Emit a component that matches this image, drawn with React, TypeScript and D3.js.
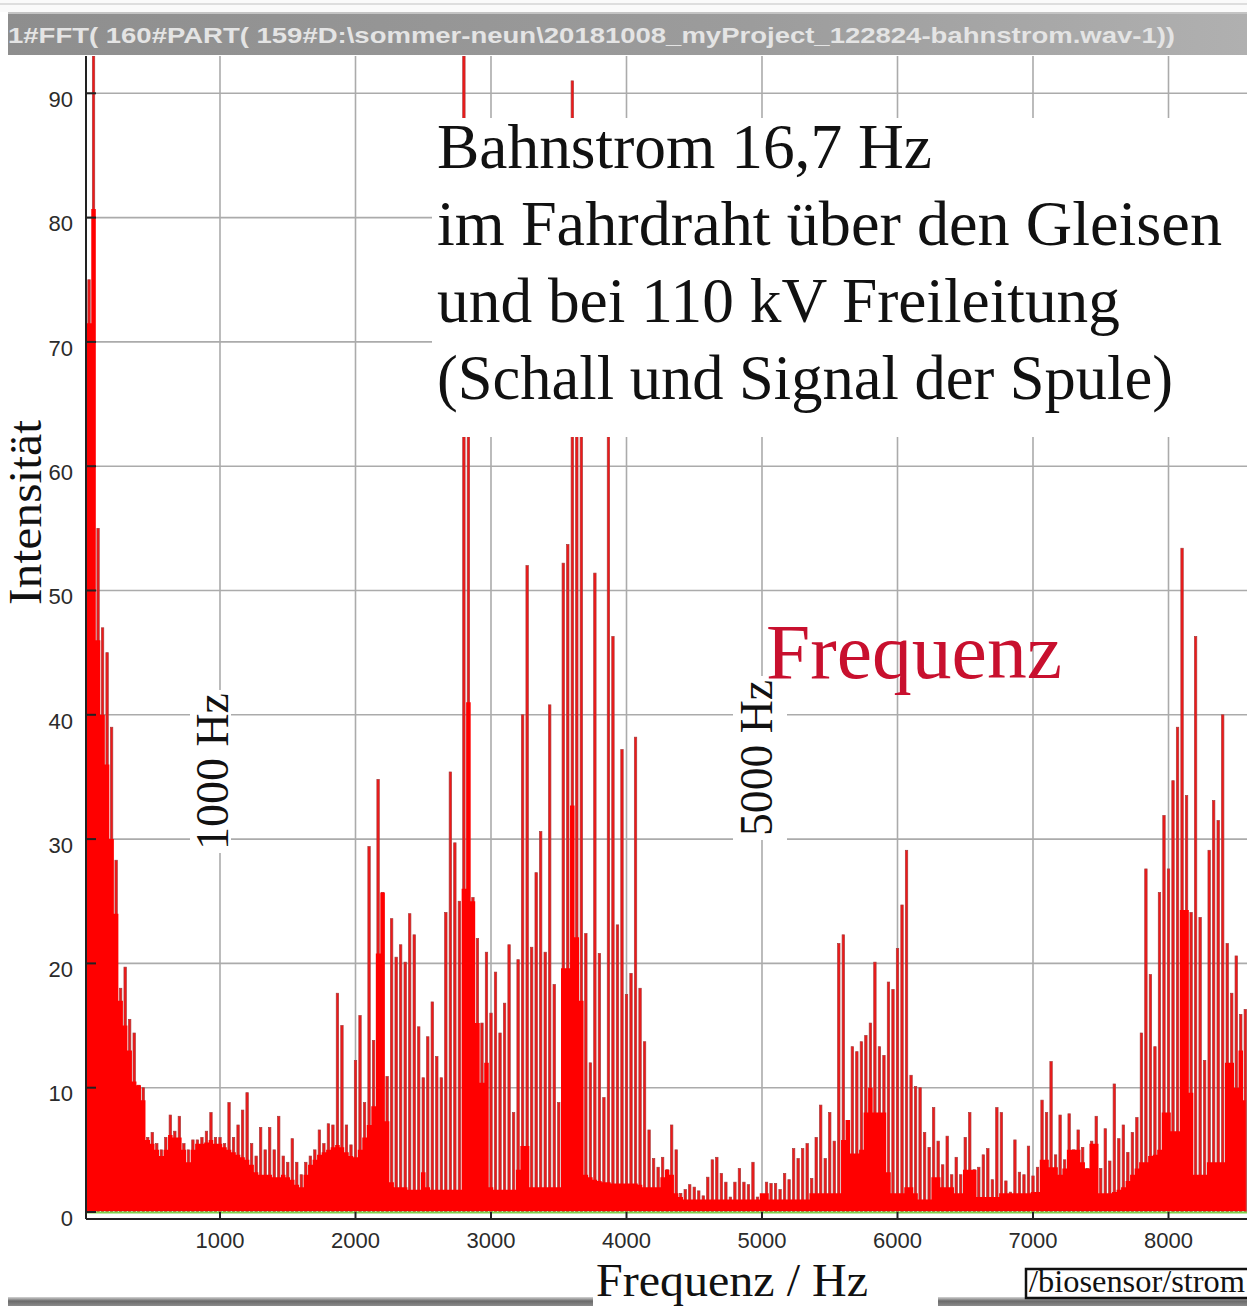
import React, { useEffect, useRef } from 'react'
import * as d3 from 'd3'

const W = 1247
const H = 1306

// lines in the spectrum sit 33,3 Hz apart (2 x 16,7 Hz)
const harmonicStep = 100 / 3

const yTicks = [0, 10, 20, 30, 40, 50, 60, 70, 80, 90]
const xTicks = [1000, 2000, 3000, 4000, 5000, 6000, 7000, 8000]

const titleText = '1#FFT( 160#PART( 159#D:\\sommer-neun\\20181008_myProject_122824-bahnstrom.wav-1))'
const headline = [
	'Bahnstrom 16,7 Hz',
	'im Fahrdraht über den Gleisen',
	'und bei 110 kV Freileitung',
	'(Schall und Signal der Spule)',
]

// peak of each line, 0 - 1000 Hz, 1000 - 2000 Hz ...
const peaks0k = [71.5, 75, 93, 55, 47, 45, 39, 28.3, 18, 19.7, 15.5, 14.4, 10.2, 10, 6, 6.4, 5.5, 5, 6, 7.8, 6.5, 7.7, 5.5, 5, 5.8, 5.8, 6, 6.5, 8, 6]
const peaks1k = [6, 5.5, 8.8, 6, 7, 8.2, 9.6, 5.5, 4.5, 6.8, 5, 6.8, 5, 7.7, 4.5, 4, 5.9, 4, 3, 4, 4.5, 5, 6.6, 5.5, 7.1, 7, 17.6, 15, 7, 5.4]
const peaks2k = [12.2, 15.8, 8.8, 29.4, 13.8, 34.8, 25.7, 10.9, 23.6, 20.5, 21.5, 20.1, 24, 22.3, 14.9, 10.8, 14.1, 16.9, 12.5, 10.8, 24.1, 35.4, 29.7, 25, 93, 70, 25.3, 22, 15.2, 20.9]
const peaks3k = [16, 19.3, 14.4, 16.8, 21.5, 8, 20.3, 40, 52, 21.3, 27.3, 30.6, 20.9, 40.8, 18.3, 8.8, 52.2, 53.7, 91, 70, 70, 22.4, 12, 51.4, 20.8, 9.2, 66, 46.3, 23.1, 37.2]
const peaks4k = [17.5, 19.2, 38.2, 18, 13.7, 6.6, 4.3, 3.6, 4.4, 3.4, 7, 5, 1.5, 1.8, 2.2, 2, 1.7, 1.3, 2.8, 4.2, 4.4, 3.1, 2.4, 1.2, 2.4, 3.5, 2.4, 2.2, 4, 1.2]
const peaks5k = [1.2, 2.4, 2.3, 2.3, 1.8, 3.1, 2.6, 5.1, 4.3, 5.1, 5.5, 2.7, 6, 8.6, 4.3, 8, 5.7, 21.6, 22.3, 7.3, 13.3, 12.9, 13.7, 14.2, 15.2, 20.1, 13.3, 12.6, 18.5, 17.9]
const peaks6k = [21.2, 24.7, 29.1, 11, 10.1, 10, 6.4, 5.2, 8.4, 5.7, 3.8, 6.1, 3, 4.4, 3, 6, 8, 3.4, 3.6, 4.6, 5.1, 2.6, 8.4, 8, 2.5, 1.6, 5.8, 3.2, 3, 5.3]
const peaks7k = [2.9, 3.6, 9, 8, 12.1, 4.6, 7.8, 4.2, 7.9, 5, 6.6, 5.2, 3.5, 5.7, 7.7, 3.5, 6.7, 4.1, 10.3, 5.9, 7, 4.8, 6.4, 7.6, 14.4, 27.6, 19.1, 13.3, 25.7, 31.9]
const peaks8k = [27.6, 34.7, 39, 53.4, 33.5, 24.1, 46.3, 23.7, 12.2, 29.1, 33.1, 31.5, 40, 21.6, 17.6, 20.6, 15.9, 16.3]

// level of the solid red floor under the lines
const floor0k = [71.5, 71.5, 80.7, 46, 40, 36, 30, 24, 17, 15, 13, 10.5, 10.2, 9, 5.8, 5.5, 5, 4.5, 5, 6.2, 6, 6, 5, 4, 5, 5.5, 5.5, 5.6, 5.8, 5.5]
const floor1k = [5.5, 5.2, 5, 4.8, 4.6, 4.4, 4.2, 3.8, 3.2, 3, 3, 3, 2.8, 2.8, 3, 2.8, 2.6, 2.2, 2, 3, 3.8, 4.2, 4.6, 4.8, 5, 5.2, 5.4, 5.2, 4.8, 4.5]
const floor2k = [4.4, 5, 6, 7, 8.5, 20.8, 25.7, 7.3, 2.4, 2, 2, 2, 1.8, 1.8, 1.8, 3.2, 2, 1.8, 1.8, 1.8, 1.8, 1.8, 1.8, 1.8, 26, 41, 25, 15.2, 10.4, 12]
const floor3k = [2, 1.8, 1.8, 1.8, 1.8, 1.8, 3.4, 5.3, 5.3, 2, 2, 2, 2, 2, 2, 2, 19.6, 19.6, 32.7, 22.1, 17, 3, 2.8, 2.6, 2.5, 2.4, 2.4, 2.3, 2.3, 2.3]
const floor4k = [2.3, 2.3, 2.3, 2.2, 2, 2, 2, 2, 2.8, 3.4, 3, 1.5, 1.2, 1, 1, 1, 1, 1, 1, 1, 1, 1, 1, 1, 1, 1, 1, 1, 1, 1]
const floor5k = [1.5, 1.5, 1, 1, 1, 1, 1, 1, 1, 1, 1, 1.5, 1.5, 1.5, 1.5, 1.5, 1.5, 1.5, 5.8, 7.4, 4.7, 4.7, 5, 8, 10, 8, 8, 8, 3.2, 1.5]
const floor6k = [1.5, 1.5, 2, 2, 1.5, 1, 1, 1, 2.8, 2.8, 2, 2, 2, 1.5, 1.5, 3.4, 3.4, 3.4, 1.2, 1.2, 1.2, 1.2, 1.2, 1.5, 1.5, 1.5, 1.5, 1.5, 1.5, 1.5]
const floor7k = [1.6, 1.6, 4.2, 4.2, 3.6, 3.6, 3, 3.5, 5, 5, 5, 4, 3.5, 5.5, 5.5, 1.5, 1.5, 1.5, 1.6, 1.8, 2, 2.5, 3, 3.5, 4, 4, 4.5, 4.6, 5, 8]
const floor8k = [8, 6.5, 6.5, 24.3, 24.3, 9.6, 3, 3, 3, 4, 4, 4, 4, 12, 12, 10, 13, 9]

const peaks = ([] as number[]).concat(peaks0k, peaks1k, peaks2k, peaks3k, peaks4k, peaks5k, peaks6k, peaks7k, peaks8k)
const floors = ([] as number[]).concat(floor0k, floor1k, floor2k, floor3k, floor4k, floor5k, floor6k, floor7k, floor8k)

const plotLeft = 86
const plotTop = 56
const plotRight = W
const axisY = 1219

const serif = '"Liberation Serif", "Times New Roman", serif'
const sans = '"Liberation Sans", Arial, sans-serif'

export default function App() {
	const svgRef = useRef<SVGSVGElement>(null)

	useEffect(() => {
		const svg = d3.select(svgRef.current)
		const x = d3.scaleLinear().domain([0, 8000]).range([84.5, 1168.5])
		const y = d3.scaleLinear().domain([0, 90]).range([1212, 93.3])

		const bins = peaks.map((p, i) => ({ hz: i * harmonicStep, peak: p, floor: floors[i] }))

		// grid
		const grid = svg.select('g.grid')
		grid.selectAll('*').remove()
		grid.selectAll('line.h').data(yTicks.filter(d => d > 0)).enter().append('line')
			.attr('x1', plotLeft).attr('x2', plotRight)
			.attr('y1', d => y(d)).attr('y2', d => y(d))
			.attr('stroke', '#ababab').attr('stroke-width', 1.6)
		grid.selectAll('line.v').data(xTicks).enter().append('line')
			.attr('x1', d => x(d)).attr('x2', d => x(d))
			.attr('y1', plotTop).attr('y2', y(0))
			.attr('stroke', '#ababab').attr('stroke-width', 1.6)

		// spectrum: lines first, solid floor on top of them
		const plot = svg.select('g.plot')
		plot.selectAll('*').remove()
		plot.selectAll('rect.line').data(bins).enter().append('rect')
			.attr('x', d => x(d.hz) - 1.2)
			.attr('width', 2.4)
			.attr('y', d => y(d.peak))
			.attr('height', d => y(0) - y(d.peak))
			.attr('fill', '#f01818')
			.attr('stroke', '#a83a3a')
			.attr('stroke-width', 0.7)
		const area = d3.area<{ hz: number, floor: number }>()
			.x(d => x(d.hz))
			.y0(y(0) - 1)
			.y1(d => y(d.floor))
			.curve(d3.curveStep)
		plot.append('path')
			.attr('d', area(bins))
			.attr('fill', '#ff0000')

		// axes
		const axes = svg.select('g.axes')
		axes.selectAll('*').remove()
		axes.append('line')
			.attr('x1', plotLeft + 1).attr('x2', plotRight)
			.attr('y1', y(0) + 0.5).attr('y2', y(0) + 0.5)
			.attr('stroke', '#7ccf4c').attr('stroke-width', 2.2)
		axes.append('line')
			.attr('x1', plotLeft).attr('x2', plotRight)
			.attr('y1', axisY).attr('y2', axisY)
			.attr('stroke', '#222').attr('stroke-width', 2)
		axes.append('line')
			.attr('x1', plotLeft).attr('x2', plotLeft)
			.attr('y1', plotTop).attr('y2', axisY)
			.attr('stroke', '#222').attr('stroke-width', 2)
		axes.selectAll('line.yt').data(yTicks).enter().append('line')
			.attr('x1', plotLeft).attr('x2', plotLeft + 10)
			.attr('y1', d => y(d)).attr('y2', d => y(d))
			.attr('stroke', '#222').attr('stroke-width', 2)
		axes.selectAll('line.xt').data(xTicks).enter().append('line')
			.attr('x1', d => x(d)).attr('x2', d => x(d))
			.attr('y1', axisY).attr('y2', axisY - 7)
			.attr('stroke', '#222').attr('stroke-width', 2)
		axes.selectAll('text.yl').data(yTicks).enter().append('text')
			.attr('x', 73).attr('y', d => y(d) + 6)
			.attr('dy', '0.35em')
			.attr('text-anchor', 'end')
			.attr('font-family', sans).attr('font-size', 22)
			.attr('fill', '#2b2b2b')
			.text(d => d)
		axes.selectAll('text.xl').data(xTicks).enter().append('text')
			.attr('x', d => x(d)).attr('y', 1248)
			.attr('text-anchor', 'middle')
			.attr('font-family', sans).attr('font-size', 22)
			.attr('fill', '#2b2b2b')
			.text(d => d)
	}, [])

	return (
		<svg ref={svgRef} width={W} height={H}
			style={{ position: 'absolute', left: 0, top: 0, background: '#fff' }}>
			<defs>
				<linearGradient id="titleBar" x1="0" x2="1" y1="0" y2="0">
					<stop offset="0" stopColor="#8e8e8e" />
					<stop offset="0.6" stopColor="#9c9c9c" />
					<stop offset="1" stopColor="#b0b0b0" />
				</linearGradient>
				<linearGradient id="footBar" x1="0" x2="0" y1="0" y2="1">
					<stop offset="0" stopColor="#d4d4d4" />
					<stop offset="0.45" stopColor="#6a6a6a" />
					<stop offset="1" stopColor="#8a8a8a" />
				</linearGradient>
				<clipPath id="plotClip">
					<rect x={plotLeft + 1} y={plotTop} width={plotRight - plotLeft} height={1212 - plotTop} />
				</clipPath>
			</defs>

			<rect x={0} y={0} width={W} height={12} fill="#fafafa" />
			<rect x={0} y={3} width={W} height={2} fill="#dedede" />
			<rect x={8} y={12} width={W - 8} height={43} fill="url(#titleBar)" />
			<rect x={8} y={12} width={W - 8} height={2} fill="#c4c4c4" />
			<text x={8} y={43} fontFamily={sans} fontWeight="bold" fontSize={22} fill="#e4e4e4"
				textLength={1167} lengthAdjust="spacingAndGlyphs">{titleText}</text>

			<g className="grid"></g>
			<g className="plot" clipPath="url(#plotClip)"></g>
			<g className="axes"></g>

			<rect x={8} y={1297} width={585} height={9} fill="url(#footBar)" />
			<rect x={938} y={1297} width={W - 938} height={9} fill="url(#footBar)" />

			{/* text overlays */}
			<rect x={432} y={118} width={W - 432} height={319} fill="#fff" />
			{headline.map((line, i) => (
				<text key={i} x={437} y={168 + i * 77} fontFamily={serif} fontSize={63} fill="#111"
					textLength={[495, 785, 683, 736][i]} lengthAdjust="spacingAndGlyphs">{line}</text>
			))}

			<rect x={190} y={690} width={41} height={163} fill="#fff" />
			<text transform="translate(228,850) rotate(-90)" fontFamily={serif} fontSize={46} fill="#111"
				textLength={157} lengthAdjust="spacingAndGlyphs">1000 Hz</text>

			<rect x={733} y={676} width={54} height={164} fill="#fff" />
			<text transform="translate(772,836) rotate(-90)" fontFamily={serif} fontSize={46} fill="#111"
				textLength={156} lengthAdjust="spacingAndGlyphs">5000 Hz</text>

			<text x={766} y={678} fontFamily={serif} fontSize={79} fill="#c8102e"
				textLength={296} lengthAdjust="spacingAndGlyphs">Frequenz</text>

			<text transform="translate(41,605) rotate(-90)" fontFamily={serif} fontSize={46} fill="#111"
				textLength={185} lengthAdjust="spacingAndGlyphs">Intensität</text>

			<rect x={593} y={1258} width={345} height={48} fill="#fff" />
			<text x={596} y={1296} fontFamily={serif} fontSize={46} fill="#111"
				textLength={272} lengthAdjust="spacingAndGlyphs">Frequenz / Hz</text>

			<rect x={1026} y={1269} width={W - 1026 + 2} height={29} fill="#fff" stroke="#111" strokeWidth={2.5} />
			<text x={1029} y={1292} fontFamily={serif} fontSize={32} fill="#111"
				textLength={216} lengthAdjust="spacingAndGlyphs">/biosensor/strom</text>
		</svg>
	)
}
